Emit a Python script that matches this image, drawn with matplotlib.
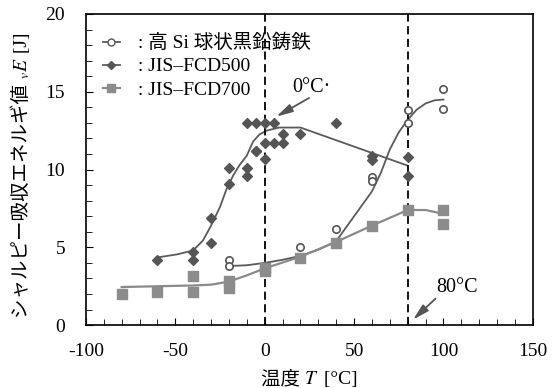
import matplotlib
matplotlib.use("Agg")
import matplotlib.pyplot as plt
from matplotlib.ticker import MultipleLocator

plt.rcParams['font.family'] = ['Liberation Serif', 'Noto Sans CJK JP']
plt.rcParams['mathtext.fontset'] = 'stix'
plt.rcParams['axes.unicode_minus'] = False

# measured points: high-Si ductile iron (circles)
si_t = [-20, -20, 20, 40, 60, 60, 80, 80, 100, 100]
si_e = [4.2, 3.8, 5.0, 6.2, 9.5, 9.25, 13.8, 13.0, 15.15, 13.9]
# trend line
si_curve_t = [-20, -10, 0, 10, 20, 30, 40, 50, 60, 65, 70, 75, 80, 85, 90, 95, 100]
si_curve_e = [3.8, 3.85, 4.0, 4.2, 4.45, 4.85, 5.4, 7.0, 8.6, 9.8, 11.3, 12.4, 13.2, 13.85, 14.25, 14.45, 14.5]

# JIS-FCD500 (diamonds)
f5_t = [-60, -40, -40, -30, -30, -20, -20, -10, -10, -5, -10, -5, 0, 5,
        0, 0, -5, 5, 10, 10, 20, 40, 60, 60, 80, 80]
f5_e = [4.2, 4.7, 4.2, 6.9, 5.25, 10.1, 9.1, 10.1, 9.6, 11.2, 13.0, 13.0, 13.0, 13.0,
        11.7, 10.7, 11.2, 11.7, 11.7, 12.3, 12.3, 13.0, 10.9, 10.6, 10.8, 9.6]
f5_curve_t = [-60, -49, -40, -34.5, -30, -25, -21.5, -17.5, -14, -10, -6.5, -3, 1, 8, 20, 80]
f5_curve_e = [4.35, 4.55, 4.8, 5.45, 6.4, 7.6, 8.7, 9.65, 10.3, 10.9, 11.8, 12.25, 12.5, 12.7, 12.7, 10.25]

# JIS-FCD700 (squares)
f7_t = [-80, -60, -40, -40, -20, -20, 0, 0, 20, 40, 60, 80, 100, 100]
f7_e = [2.0, 2.1, 3.15, 2.1, 2.85, 2.4, 3.7, 3.45, 4.3, 5.3, 6.35, 7.4, 7.4, 6.5]
f7_curve_t = [-80, -60, -40, -30, -20, -10, 0, 20, 40, 60, 80, 90, 100]
f7_curve_e = [2.45, 2.5, 2.55, 2.6, 2.8, 3.2, 3.65, 4.4, 5.35, 6.4, 7.4, 7.4, 7.15]

labels = [': 高 Si 球状黒鉛鋳鉄', ': JIS–FCD500', ': JIS–FCD700']
xlabel_parts = ['温度 ', '$T$', ' [°C]']
ylabel_parts = ['シャルピー吸収エネルギ値 ', '$_{v}E$', ' [J]']

fig = plt.figure(figsize=(5.58, 3.88), dpi=100)
ax = fig.add_axes([0.154, 0.162, 0.801, 0.802])

line_col = '#5a5a5a'
sq_col = '#8c8c8c'
ax.plot(si_curve_t, si_curve_e, color=line_col, lw=1.3)
ax.plot(f5_curve_t, f5_curve_e, color=line_col, lw=1.3)
ax.plot(f7_curve_t, f7_curve_e, color='#8a8a8a', lw=1.6)

ax.scatter(f7_t, f7_e, marker='s', s=45, color=sq_col, zorder=3)
ax.scatter(f5_t, f5_e, marker='D', s=25, color='#555555', zorder=3)
ax.scatter(si_t, si_e, marker='o', s=28, facecolor='white', edgecolor='#555555',
           linewidth=1.2, zorder=4)

# vertical reference lines
for tv in [0, 80]:
    ax.axvline(tv, color='black', lw=1.3, ls=(0, (4.5, 2.5)), zorder=2)

# legend entries
ax.plot([], [], color=line_col, marker='o', mfc='white', mec='#555555', ms=5,
        lw=1.3, label=labels[0])
ax.plot([], [], color=line_col, marker='D', mfc='#555555', mec='#555555', ms=4.5,
        lw=1.3, label=labels[1])
ax.plot([], [], color='#8a8a8a', marker='s', mfc=sq_col, mec=sq_col, ms=6,
        lw=1.6, label=labels[2])
ax.legend(loc='upper left', bbox_to_anchor=(0.02, 0.96), frameon=False, fontsize=14,
          handlelength=0.9, handletextpad=0.9, labelspacing=0.28, borderaxespad=0.2,
          borderpad=0.2)

# annotations
ax.text(15.5, 15.25, '0°C·', fontsize=14.5, va='center', ha='left')
ax.annotate('', xy=(6.5, 13.4), xytext=(24.8, 14.6),
            arrowprops=dict(arrowstyle='-|>,head_length=0.7,head_width=0.18',
                            color='#555555', lw=1.3, shrinkA=0, shrinkB=0,
                            mutation_scale=14))
ax.text(96, 2.4, '80°C', fontsize=14.5, va='center', ha='left')
ax.annotate('', xy=(82.9, 0.35), xytext=(95.5, 1.7),
            arrowprops=dict(arrowstyle='-|>,head_length=0.7,head_width=0.18',
                            color='#555555', lw=1.3, shrinkA=0, shrinkB=0,
                            mutation_scale=14))

ax.set_xlim(-100, 150)
ax.set_ylim(0, 20)
ax.xaxis.set_major_locator(MultipleLocator(50))
ax.xaxis.set_minor_locator(MultipleLocator(10))
ax.yaxis.set_major_locator(MultipleLocator(5))
ax.yaxis.set_minor_locator(MultipleLocator(1))
ax.tick_params(which='both', direction='in', labelsize=14)
ax.tick_params(axis='x', pad=13)
ax.tick_params(axis='y', pad=15)
ax.tick_params(which='major', length=5)
ax.tick_params(which='minor', length=4)
for sp in ax.spines.values():
    sp.set_linewidth(1.2)


def place_parts(parts, fonts, center, base, vertical):
    # lay out text pieces one after another so CJK and math glyphs mix
    renderer = fig.canvas.get_renderer()
    W, H = fig.bbox.width, fig.bbox.height
    texts = []
    for s, fam in zip(parts, fonts):
        kw = dict(fontsize=14, ha='left', va='baseline', rotation_mode='anchor',
                  rotation=90 if vertical else 0)
        if fam:
            kw['family'] = fam
        texts.append(fig.text(0, 0, s, **kw))
    sizes = []
    for t in texts:
        bb = t.get_window_extent(renderer)
        sizes.append(bb.height if vertical else bb.width)
    pos = center - sum(sizes) / 2
    for t, sz in zip(texts, sizes):
        if vertical:
            t.set_position((base / W, pos / H))
        else:
            t.set_position((pos / W, base / H))
        pos += sz


fonts = [['Noto Sans CJK JP'], None, ['Liberation Serif']]
place_parts(xlabel_parts, fonts, center=309, base=388 - 384, vertical=False)
place_parts(ylabel_parts, fonts, center=388 - 175, base=27, vertical=True)

fig.savefig('out.png', dpi=100)
